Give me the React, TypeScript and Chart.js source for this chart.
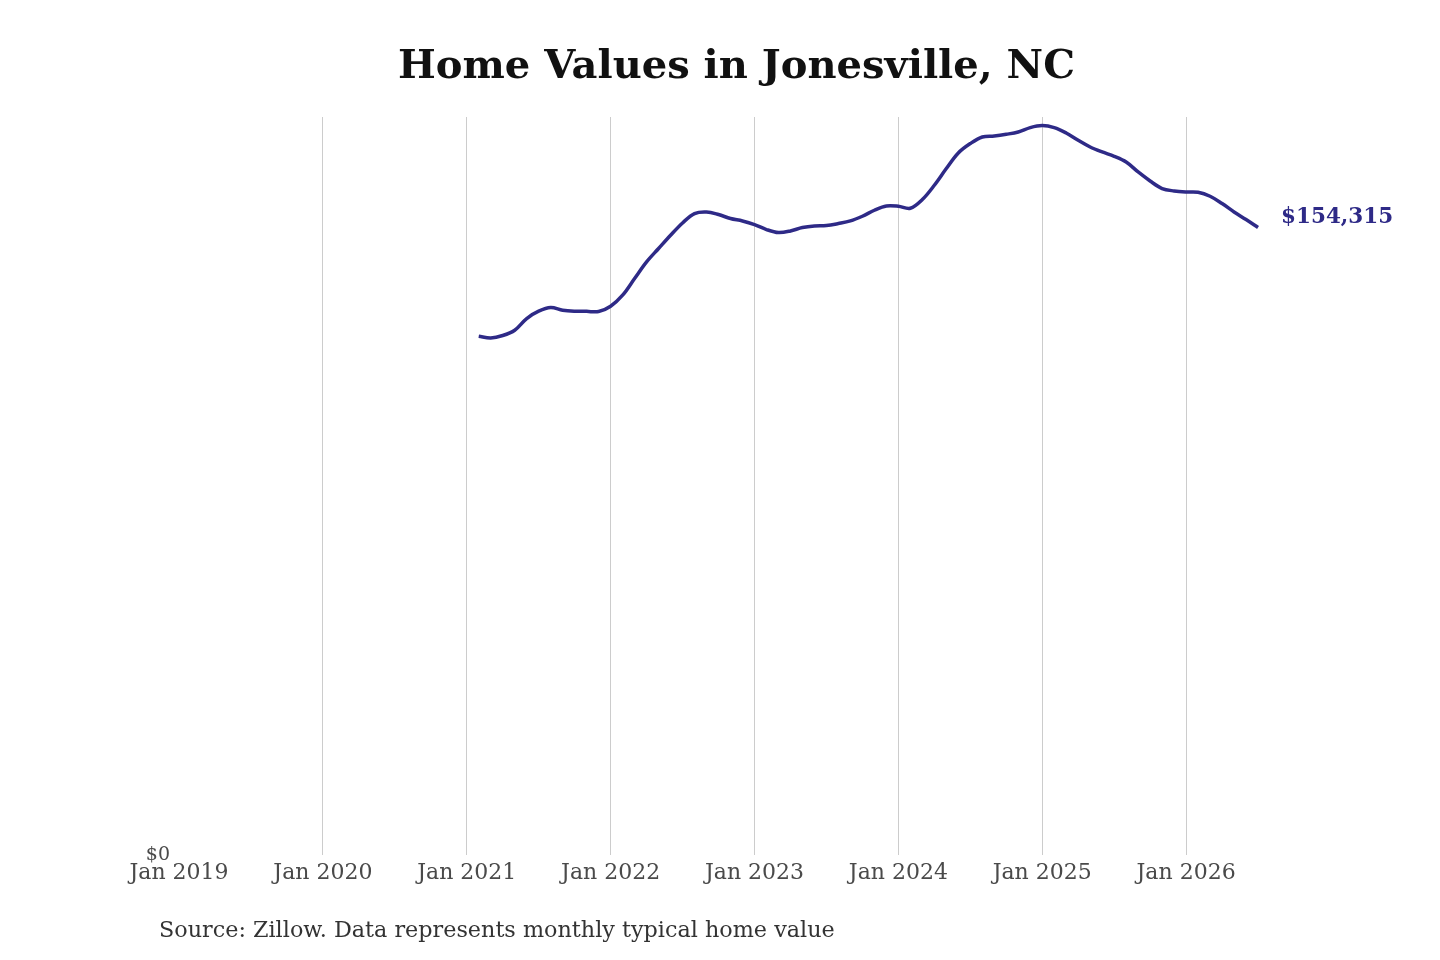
import { useEffect, useRef } from "react";
import { Chart, registerables } from "chart.js";

Chart.register(...registerables);

// Monthly typical home value, Feb 2021 – Jul 2026
const MONTHS = [
  "2021-02", "2021-03", "2021-04", "2021-05", "2021-06", "2021-07", "2021-08", "2021-09", "2021-10", "2021-11", "2021-12",
  "2022-01", "2022-02", "2022-03", "2022-04", "2022-05", "2022-06", "2022-07", "2022-08", "2022-09", "2022-10", "2022-11", "2022-12",
  "2023-01", "2023-02", "2023-03", "2023-04", "2023-05", "2023-06", "2023-07", "2023-08", "2023-09", "2023-10", "2023-11", "2023-12",
  "2024-01", "2024-02", "2024-03", "2024-04", "2024-05", "2024-06", "2024-07", "2024-08", "2024-09", "2024-10", "2024-11", "2024-12",
  "2025-01", "2025-02", "2025-03", "2025-04", "2025-05", "2025-06", "2025-07", "2025-08", "2025-09", "2025-10", "2025-11", "2025-12",
  "2026-01", "2026-02", "2026-03", "2026-04", "2026-05", "2026-06", "2026-07",
];

const HOME_VALUES = [
  127591, 127173, 127763, 129066, 131942, 133737, 134647, 133983, 133737, 133700, 133650,
  134966, 137670, 141776, 145857, 149151, 152421, 155445, 157755, 158149, 157510, 156526, 155936,
  155051, 153822, 153085, 153478, 154314, 154707, 154805, 155297, 155936, 157092, 158567, 159624,
  159550, 159058, 161197, 164713, 168818, 172653, 174964, 176587, 176833, 177251, 177816, 178898,
  179390, 178898, 177570, 175776, 174131, 172902, 171842, 170441, 167982, 165770, 163902, 163311,
  163066, 162992, 162009, 160214, 158149, 156281, 154315,
];

const TICK_MONTHS = ["2019-01", "2020-01", "2021-01", "2022-01", "2023-01", "2024-01", "2025-01", "2026-01"];
const TICK_LABELS = ["Jan 2019", "Jan 2020", "Jan 2021", "Jan 2022", "Jan 2023", "Jan 2024", "Jan 2025", "Jan 2026"];
const X_RANGE = ["2019-01", "2026-10"];

const Y_TICKS = [0];
const Y_TICK_LABELS = ["$0"];
const Y_MAX = 181500;

const TITLE = "Home Values in Jonesville, NC";
const SOURCE = "Source: Zillow. Data represents monthly typical home value";

const LINE_COLOR = "#2e2a87";
const FONT = "'DejaVu Serif', serif";

const monthIndex = (m: string) => {
  const [y, mo] = m.split("-").map(Number);
  return (y - 2019) * 12 + (mo - 1);
};

const usd = (v: number) => "$" + v.toLocaleString("en-US");

const annotations = {
  id: "annotations",
  afterDraw(chart: Chart) {
    const { ctx } = chart;
    const meta = chart.getDatasetMeta(0);
    const last = meta.data[meta.data.length - 1];
    ctx.save();
    ctx.textBaseline = "middle";
    ctx.textAlign = "left";
    ctx.font = `bold 21.5px ${FONT}`;
    ctx.fillStyle = LINE_COLOR;
    ctx.fillText(usd(HOME_VALUES[HOME_VALUES.length - 1]), last.x + 23, last.y - 10);
    ctx.font = `22.3px ${FONT}`;
    ctx.fillStyle = "#333333";
    ctx.fillText(SOURCE, 159, 931);
    ctx.restore();
  },
};

export default function App() {
  const chartRef = useRef<HTMLCanvasElement | null>(null);
  const chartInstance = useRef<Chart | null>(null);

  useEffect(() => {
    document.body.style.margin = "0";
    if (!chartRef.current) return;
    const ctx = chartRef.current.getContext("2d");
    if (!ctx) return;

    if (chartInstance.current) chartInstance.current.destroy();

    const tickIdx = TICK_MONTHS.map(monthIndex);

    chartInstance.current = new Chart(ctx, {
      type: "line",
      data: {
        datasets: [
          {
            data: MONTHS.map((m, i) => ({ x: monthIndex(m), y: HOME_VALUES[i] })),
            borderColor: LINE_COLOR,
            borderWidth: 3.5,
            pointRadius: 0,
            tension: 0.35,
            fill: false,
          },
        ],
      },
      options: {
        responsive: false,
        animation: false,
        layout: { padding: { left: 0, right: 146, top: 0, bottom: 0 } },
        plugins: {
          legend: { display: false },
          tooltip: { enabled: false },
          title: {
            display: true,
            text: TITLE,
            fullSize: false,
            color: "#111111",
            font: { family: FONT, size: 40, weight: "bold" },
            padding: { top: 44, bottom: 25 },
          },
        },
        scales: {
          x: {
            type: "linear",
            min: monthIndex(X_RANGE[0]),
            max: monthIndex(X_RANGE[1]),
            border: { display: false },
            grid: {
              drawTicks: false,
              color: (c: any) => (c.tick && c.tick.value === 0 ? "rgba(0,0,0,0)" : "#cccccc"),
              lineWidth: 1,
            },
            afterBuildTicks: (scale: any) => {
              scale.ticks = tickIdx.map((v) => ({ value: v }));
            },
            afterFit: (scale: any) => {
              scale.height = 105;
            },
            ticks: {
              autoSkip: false,
              maxRotation: 0,
              padding: 5,
              color: "#4a4a4a",
              font: { family: FONT, size: 22 },
              callback: (v: any) => TICK_LABELS[tickIdx.indexOf(Number(v))] ?? "",
            },
          },
          y: {
            min: 0,
            max: Y_MAX,
            border: { display: false },
            grid: { display: false },
            afterBuildTicks: (scale: any) => {
              scale.ticks = Y_TICKS.map((v) => ({ value: v }));
            },
            afterFit: (scale: any) => {
              scale.width = 179;
            },
            ticks: {
              padding: 1,
              color: "#4a4a4a",
              font: { family: FONT, size: 19 },
              callback: (v: any) => Y_TICK_LABELS[Y_TICKS.indexOf(Number(v))] ?? "",
            },
          },
        },
      },
      plugins: [annotations],
    });

    return () => {
      if (chartInstance.current) {
        chartInstance.current.destroy();
        chartInstance.current = null;
      }
    };
  }, []);

  return (
    <div style={{ width: 1440, height: 960, background: "#ffffff" }}>
      <canvas ref={chartRef} width={1440} height={960} />
    </div>
  );
}
